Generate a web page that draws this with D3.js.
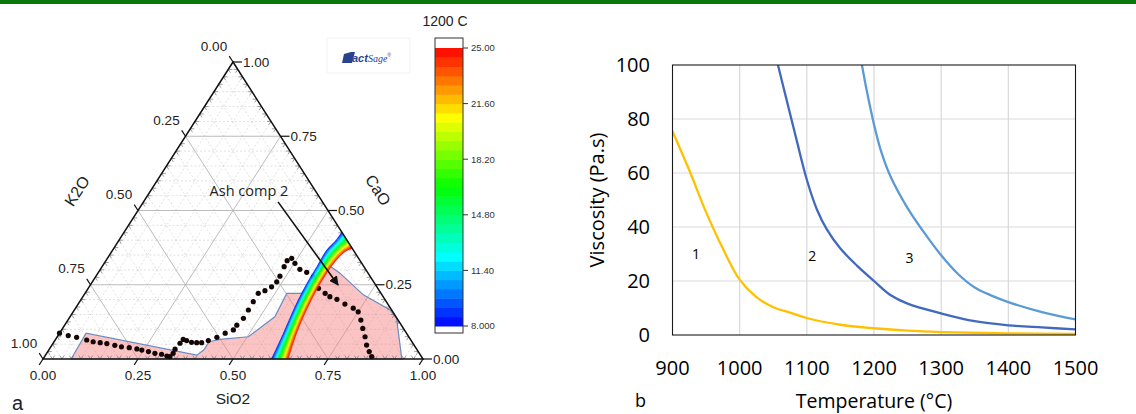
<!DOCTYPE html>
<html>
<head>
<meta charset="utf-8">
<script src="https://cdn.jsdelivr.net/npm/d3@7"></script>
<style>
  html, body { margin: 0; padding: 0; background: #fff; }
  svg { display: block; }
  .tern text { font-family: "Liberation Sans", Arial, sans-serif; fill: #222; }
  .visc text { font-family: "Open Sans", sans-serif; fill: #000; }
</style>
</head>
<body>
<div id="chart"></div>
<script>
// ---- panel a: K2O - SiO2 - CaO section at 1200 C, points stored as [SiO2, CaO]
const ternTicks = [0, 0.25, 0.5, 0.75, 1];
const liquidRegion = [[0.074,0],[0.070,0.087],[0.398,0.013],[0.408,0.030],[0.408,0.058],[0.433,0.066],
  [0.503,0.075],[0.539,0.142],[0.531,0.221],[0.570,0.221],[0.573,0.232],[0.583,0.323],[0.637,0.289],
  [0.735,0.216],[0.831,0.165],[0.862,0.137],[0.943,0.002],[0.945,0]];
const ashPath = [[0.000,0.087],[0.027,0.079],[0.052,0.073],[0.083,0.064],[0.103,0.058],[0.123,0.055],
  [0.142,0.052],[0.166,0.046],[0.186,0.041],[0.208,0.038],[0.230,0.034],[0.245,0.030],[0.265,0.025],
  [0.285,0.019],[0.304,0.016],[0.321,0.010],[0.330,0.008],[0.333,0.019],[0.331,0.033],[0.334,0.053],
  [0.336,0.066],[0.347,0.062],[0.363,0.056],[0.377,0.055],[0.390,0.055],[0.404,0.062],[0.421,0.073],
  [0.436,0.087],[0.452,0.098],[0.453,0.114],[0.459,0.137],[0.458,0.165],[0.457,0.193],[0.456,0.221],
  [0.469,0.230],[0.480,0.243],[0.485,0.260],[0.484,0.279],[0.479,0.311],[0.477,0.331],[0.485,0.339],
  [0.502,0.322],[0.525,0.302],[0.548,0.292],[0.573,0.277],[0.606,0.238],[0.632,0.221],[0.650,0.210],
  [0.673,0.201],[0.702,0.185],[0.731,0.171],[0.750,0.159],[0.771,0.131],[0.790,0.103],[0.810,0.075],
  [0.828,0.047],[0.846,0.025],[0.861,0.008]];
// iso-viscosity lines bounding the coloured band (8 and 25 Pa.s)
const isoLow = [[0.601,0.002],[0.589,0.087],[0.575,0.176],[0.567,0.255],[0.565,0.311],[0.563,0.367],[0.571,0.401],[0.572,0.428]];
const isoHigh = [[0.645,0.002],[0.624,0.087],[0.611,0.165],[0.604,0.232],[0.602,0.289],[0.606,0.333],[0.613,0.359],[0.627,0.373]];
const ashArrow = [[0.354,0.529],[0.652,0.249]];
const barTicks = [8, 11.4, 14.8, 18.2, 21.6, 25];
const barLabels = [`8.000`, `11.40`, `14.80`, `18.20`, `21.60`, `25.00`];

// ---- panel b: viscosity vs temperature
const temp1 = [900, 925, 950, 975, 1000, 1025, 1050, 1075, 1100, 1150, 1200, 1250, 1300, 1400, 1500];
const visc1 = [75.5, 61, 45.5, 32, 20.5, 14, 10.3, 8.3, 6.3, 3.8, 2.5, 1.6, 1.1, 0.6, 0.4];
const temp2 = [1057, 1070, 1085, 1100, 1115, 1130, 1150, 1175, 1200, 1225, 1250, 1300, 1350, 1400, 1450, 1500];
const visc2 = [100, 87, 72, 57.5, 46.5, 39, 32, 25.6, 20, 14.7, 11.6, 8, 5.1, 3.6, 2.8, 2.1];
const temp3 = [1182, 1190, 1200, 1210, 1225, 1250, 1275, 1300, 1325, 1350, 1375, 1400, 1450, 1500];
const visc3 = [100, 89.5, 78, 68.5, 58.5, 47, 37.8, 29.5, 22.6, 17.6, 14.6, 12.2, 8.5, 5.8];
const seriesColors = [`#ffc000`, `#4169bd`, `#5b9bd5`];
const seriesLabels = [`1`, `2`, `3`];
const labelPos = [[935, 30], [1108, 29.3], [1253, 28.5]];
const tempTicks = [900, 1000, 1100, 1200, 1300, 1400, 1500];
const viscTicks = [0, 20, 40, 60, 80, 100];

const W = 1136, H = 414;
const svg = d3.select(`#chart`).append(`svg`).attr(`width`, W).attr(`height`, H);

svg.append(`rect`).attr(`width`, W).attr(`height`, 4).attr(`fill`, `#0b780b`);

// ===================== ternary =====================
const tern = svg.append(`g`).attr(`class`, `tern`);
const sx = d3.scaleLinear().domain([0, 1]).range([43, 423]);
const cy = d3.scaleLinear().domain([0, 1]).range([359, 62]);
const tx = (d) => sx(d[0] + d[1] / 2);
const ty = (d) => cy(d[1]);
const tline = d3.line().x(tx).y(ty);

const BL = [tx([0, 0]), ty([0, 0])], BR = [tx([1, 0]), ty([1, 0])], TOP = [tx([0, 1]), ty([0, 1])];
const unit = (a, b) => { const dx = b[0] - a[0], dy = b[1] - a[1], l = Math.hypot(dx, dy); return [dx / l, dy / l]; };
const upLeftEdge = unit(BL, TOP);   // constant SiO2 direction
const upRightEdge = unit(BR, TOP);  // constant K2O direction

const isMajor = (v) => Math.abs(v * 4 - Math.round(v * 4)) < 1e-6;
const gridLines = (v) => [
  [[0, v], [1 - v, v]],
  [[v, 0], [v, 1 - v]],
  [[1 - v, 0], [0, 1 - v]]
];

const minorVals = d3.range(0.05, 0.999, 0.05).filter((v) => !isMajor(v));
minorVals.forEach((v) => gridLines(v).forEach((seg) => {
  tern.append(`path`).attr(`d`, tline(seg))
    .attr(`stroke`, `#cdcdcd`).attr(`stroke-width`, 0.6).attr(`stroke-dasharray`, `2,2`).attr(`fill`, `none`);
}));
[0.25, 0.5, 0.75].forEach((v) => gridLines(v).forEach((seg) => {
  tern.append(`path`).attr(`d`, tline(seg))
    .attr(`stroke`, `#b4b4b4`).attr(`stroke-width`, 0.9).attr(`fill`, `none`);
}));

// liquid region
tern.append(`path`)
  .datum(liquidRegion)
  .attr(`d`, (d) => tline(d) + `Z`)
  .attr(`fill`, `#f47c7c`).attr(`fill-opacity`, 0.45)
  .attr(`stroke`, `#6a8cc0`).attr(`stroke-width`, 1.2);

// minor edge ticks
const tickLen = 4;
const minorTicks = d3.range(0.025, 0.999, 0.025).filter((v) => !isMajor(v));
const tickG = tern.append(`g`).attr(`stroke`, `#777`).attr(`stroke-width`, 0.7);
const tickAt = (p, dir, len) => tickG.append(`line`)
  .attr(`x1`, p[0]).attr(`y1`, p[1]).attr(`x2`, p[0] + dir[0] * len).attr(`y2`, p[1] + dir[1] * len);
minorTicks.forEach((v) => {
  const pb = [tx([v, 0]), ty([v, 0])];
  tickAt(pb, upLeftEdge, tickLen); tickAt(pb, upRightEdge, tickLen);
  const pl = [tx([0, 1 - v]), ty([0, 1 - v])];
  tickAt(pl, [1, 0], tickLen); tickAt(pl, [-upRightEdge[0], -upRightEdge[1]], tickLen);
  const pr = [tx([1 - v, v]), ty([1 - v, v])];
  tickAt(pr, [-1, 0], tickLen); tickAt(pr, [-upLeftEdge[0], -upLeftEdge[1]], tickLen);
});

// cooling path dots
tern.append(`g`).selectAll(`circle`)
  .data(ashPath)
  .enter().append(`circle`)
    .attr(`cx`, tx).attr(`cy`, ty).attr(`r`, 2.6)
    .attr(`fill`, `#150606`);

// colour scale shared by band and bar
const viscColor = (v) => d3.hsl(240 * (25 - v) / 17, 1, 0.5).formatHex();
const bandSteps = 17;
const bandCurve = (t) => isoLow.map((p, i) => [p[0] + (isoHigh[i][0] - p[0]) * t, p[1] + (isoHigh[i][1] - p[1]) * t]);
const smooth = d3.line().x(tx).y(ty).curve(d3.curveCatmullRom);
d3.range(bandSteps).forEach((i) => {
  const a = bandCurve(i / bandSteps), b = bandCurve((i + 1) / bandSteps).reverse();
  const v = 8 + (i + 0.5) * 17 / bandSteps;
  tern.append(`path`)
    .attr(`d`, smooth(a) + `L` + smooth(b).slice(1) + `Z`)
    .attr(`fill`, viscColor(v)).attr(`stroke`, viscColor(v)).attr(`stroke-width`, 0.4);
});

// triangle frame
tern.append(`path`)
  .attr(`d`, tline([[0, 0], [1, 0], [0, 1]]) + `Z`)
  .attr(`fill`, `none`).attr(`stroke`, `#111`).attr(`stroke-width`, 1.5);

// major ticks + labels
const majG = tern.append(`g`).attr(`stroke`, `#111`).attr(`stroke-width`, 1.2);
const majTick = (p, dir, len) => majG.append(`line`)
  .attr(`x1`, p[0]).attr(`y1`, p[1]).attr(`x2`, p[0] + dir[0] * len).attr(`y2`, p[1] + dir[1] * len);
const fmt = d3.format(`.2f`);
ternTicks.forEach((v) => {
  const pb = [tx([v, 0]), ty([v, 0])];
  majTick(pb, [-upLeftEdge[0], -upLeftEdge[1]], 7);
  tern.append(`text`).attr(`x`, pb[0]).attr(`y`, pb[1] + 16).attr(`dy`, `.35em`)
    .attr(`text-anchor`, `middle`).attr(`font-size`, 13.5).text(fmt(v));

  const pl = [tx([0, 1 - v]), ty([0, 1 - v])];
  majTick(pl, upRightEdge, 7);
  tern.append(`text`).attr(`x`, pl[0] - 19).attr(`y`, pl[1] - 16).attr(`dy`, `.35em`)
    .attr(`text-anchor`, `middle`).attr(`font-size`, 13.5).text(fmt(v));

  const pr = [tx([1 - v, v]), ty([1 - v, v])];
  majTick(pr, [1, 0], 9);
  tern.append(`text`).attr(`x`, pr[0] + 10).attr(`y`, pr[1]).attr(`dy`, `.35em`)
    .attr(`text-anchor`, `start`).attr(`font-size`, 13.5).text(fmt(v));
});

tern.append(`text`).attr(`x`, 233).attr(`y`, 404).attr(`text-anchor`, `middle`).attr(`font-size`, 15.5).text(`SiO2`);
tern.append(`text`).attr(`transform`, `translate(77,191) rotate(-57.4)`).attr(`dy`, `.35em`)
  .attr(`text-anchor`, `middle`).attr(`font-size`, 16).text(`K2O`);
tern.append(`text`).attr(`transform`, `translate(378,190) rotate(57.4)`).attr(`dy`, `.35em`)
  .attr(`text-anchor`, `middle`).attr(`font-size`, 16).text(`CaO`);

// ash composition arrow
svg.append(`defs`).append(`marker`)
    .attr(`id`, `arrowhead`).attr(`viewBox`, `0 0 10 10`).attr(`refX`, 9).attr(`refY`, 5)
    .attr(`markerWidth`, 6).attr(`markerHeight`, 6).attr(`orient`, `auto`)
  .append(`path`).attr(`d`, `M0,0L10,5L0,10Z`).attr(`fill`, `#111`);
tern.append(`path`).attr(`d`, tline(ashArrow))
  .attr(`stroke`, `#111`).attr(`stroke-width`, 1.6).attr(`marker-end`, `url(#arrowhead)`);
tern.append(`text`).attr(`x`, 249).attr(`y`, 191).attr(`dy`, `.35em`).attr(`text-anchor`, `middle`)
  .style(`font-family`, `"Open Sans", sans-serif`).attr(`font-size`, 14.5).text(`Ash comp 2`);

// FactSage mark
const logo = tern.append(`g`);
logo.append(`rect`).attr(`x`, 327).attr(`y`, 38).attr(`width`, 83).attr(`height`, 35)
  .attr(`fill`, `none`).attr(`stroke`, `#f3f3f3`);
logo.append(`path`).attr(`d`, `M344,54L351,52L355,52L352,63L342,63Z`).attr(`fill`, `#27438f`);
logo.append(`text`).attr(`x`, 352).attr(`y`, 62).attr(`font-size`, 11).attr(`font-style`, `italic`)
  .style(`fill`, `#27438f`)
  .html(`<tspan font-weight="bold">act</tspan><tspan font-family="Liberation Serif" font-size="10">Sage</tspan><tspan font-size="5" dy="-5">®</tspan>`);

// colour bar
const barY = d3.scaleLinear().domain([8, 25]).range([326, 48]);
const bar = tern.append(`g`);
const nBands = 30;
d3.range(nBands).forEach((i) => {
  const lo = 8 + i * 17 / nBands, hi = 8 + (i + 1) * 17 / nBands;
  bar.append(`rect`).attr(`x`, 435).attr(`width`, 28)
    .attr(`y`, barY(hi)).attr(`height`, barY(lo) - barY(hi) + 0.5)
    .attr(`fill`, viscColor((lo + hi) / 2));
});
bar.append(`rect`).attr(`x`, 435).attr(`y`, 38).attr(`width`, 28).attr(`height`, 295)
  .attr(`fill`, `none`).attr(`stroke`, `#333`).attr(`stroke-width`, 1);
barTicks.forEach((v, i) => {
  bar.append(`line`).attr(`x1`, 463).attr(`x2`, 468).attr(`y1`, barY(v)).attr(`y2`, barY(v))
    .attr(`stroke`, `#333`);
  bar.append(`text`).attr(`x`, 471).attr(`y`, barY(v)).attr(`dy`, `.35em`)
    .attr(`font-size`, 9.5).style(`fill`, `#333`).text(barLabels[i]);
});
bar.append(`text`).attr(`x`, 445).attr(`y`, 26).attr(`text-anchor`, `middle`).attr(`font-size`, 14).text(`1200 C`);

tern.append(`text`).attr(`x`, 12).attr(`y`, 410).attr(`font-size`, 20).text(`a`);

// ===================== viscosity chart =====================
const visc = svg.append(`g`).attr(`class`, `visc`);
const x = d3.scaleLinear().domain([900, 1500]).range([672.5, 1075.5]);
const y = d3.scaleLinear().domain([0, 100]).range([335, 65]);

visc.append(`g`).selectAll(`line.vg`)
  .data(tempTicks.slice(1, -1))
  .enter().append(`line`)
    .attr(`x1`, (d) => x(d)).attr(`x2`, (d) => x(d)).attr(`y1`, y(0)).attr(`y2`, y(100))
    .attr(`stroke`, `#d9d9d9`).attr(`stroke-width`, 1.2);
visc.append(`g`).selectAll(`line.hg`)
  .data(viscTicks.slice(1, -1))
  .enter().append(`line`)
    .attr(`x1`, x(900)).attr(`x2`, x(1500)).attr(`y1`, (d) => y(d)).attr(`y2`, (d) => y(d))
    .attr(`stroke`, `#d9d9d9`).attr(`stroke-width`, 1.2);

svg.append(`clipPath`).attr(`id`, `plotClip`)
  .append(`rect`).attr(`x`, x(900)).attr(`y`, y(100)).attr(`width`, x(1500) - x(900)).attr(`height`, y(0) - y(100));

const line = d3.line().x((d) => x(d[0])).y((d) => y(d[1])).curve(d3.curveCatmullRom.alpha(0.5));
const series = [d3.zip(temp1, visc1), d3.zip(temp2, visc2), d3.zip(temp3, visc3)];
visc.append(`g`).attr(`clip-path`, `url(#plotClip)`).selectAll(`path`)
  .data(series)
  .enter().append(`path`)
    .attr(`d`, line)
    .attr(`fill`, `none`)
    .attr(`stroke`, (d, i) => seriesColors[i])
    .attr(`stroke-width`, 2.3);

visc.append(`rect`).attr(`x`, x(900)).attr(`y`, y(100)).attr(`width`, x(1500) - x(900)).attr(`height`, y(0) - y(100))
  .attr(`fill`, `none`).attr(`stroke`, `#1a1a1a`).attr(`stroke-width`, 1.1);

visc.append(`g`).selectAll(`text`)
  .data(viscTicks)
  .enter().append(`text`)
    .attr(`x`, 650).attr(`y`, (d) => y(d)).attr(`dy`, `.36em`).attr(`text-anchor`, `end`)
    .attr(`font-size`, 20).text((d) => d);
visc.append(`g`).selectAll(`text`)
  .data(tempTicks)
  .enter().append(`text`)
    .attr(`x`, (d) => x(d)).attr(`y`, 368).attr(`dy`, `.36em`).attr(`text-anchor`, `middle`)
    .attr(`font-size`, 20).text((d) => d);

seriesLabels.forEach((t, i) => {
  visc.append(`text`).attr(`x`, x(labelPos[i][0])).attr(`y`, y(labelPos[i][1])).attr(`dy`, `.35em`)
    .attr(`text-anchor`, `middle`).attr(`font-size`, 14).text(t);
});

visc.append(`text`).attr(`transform`, `translate(597,200) rotate(-90)`).attr(`dy`, `.35em`)
  .attr(`text-anchor`, `middle`).attr(`font-size`, 20).text(`Viscosity (Pa.s)`);
visc.append(`text`).attr(`x`, 874).attr(`y`, 408).attr(`text-anchor`, `middle`)
  .attr(`font-size`, 19.5).text(`Temperature (°C)`);
visc.append(`text`).attr(`x`, 635).attr(`y`, 407).attr(`font-size`, 18).text(`b`);
</script>
</body>
</html>
